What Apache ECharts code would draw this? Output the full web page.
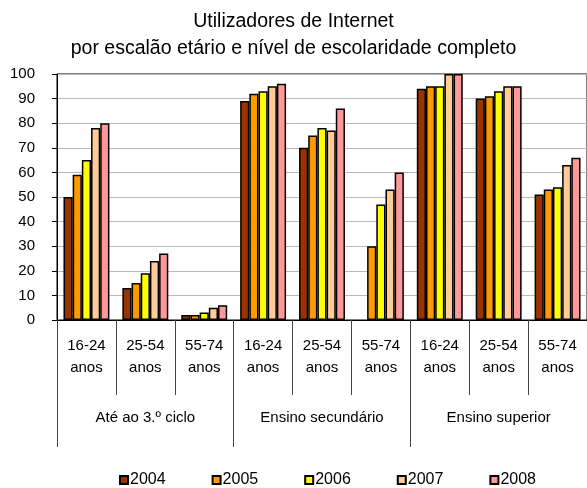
<!DOCTYPE html>
<html>
<head>
<meta charset="utf-8">
<script src="https://cdn.jsdelivr.net/npm/echarts@6/dist/echarts.min.js"></script>
<style>
  html, body { margin: 0; padding: 0; background: #fff; }
  #chart { width: 587px; height: 488px; }
</style>
</head>
<body>
<div id="chart"></div>
<script>
const ageGroups = ['16-24\nanos', '25-54\nanos', '55-74\nanos', '16-24\nanos', '25-54\nanos', '55-74\nanos', '16-24\nanos', '25-54\nanos', '55-74\nanos']
const levels = ['Até ao 3.º ciclo', 'Ensino secundário', 'Ensino superior']
const years = ['2004', '2005', '2006', '2007', '2008']

const v2004 = [50, 13, 2, 89, 70, null, 94, 90, 51]
const v2005 = [59, 15, 2, 92, 75, 30, 95, 91, 53]
const v2006 = [65, 19, 3, 93, 78, 47, 95, 93, 54]
const v2007 = [78, 24, 5, 95, 77, 53, 100, 95, 63]
const v2008 = [80, 27, 6, 96, 86, 60, 100, 95, 66]
const values = [v2004, v2005, v2006, v2007, v2008]

const colorList = ['#993300', '#ff9900', '#ffff00', '#ffcc99', '#ff9999']
const font = 'Liberation Sans, Arial, sans-serif'

const chart = echarts.init(document.getElementById('chart'))

const option = {
  animation: false,
  textStyle: { fontFamily: font },
  title: {
    text: 'Utilizadores de Internet\npor escalão etário e nível de escolaridade completo',
    left: 'center',
    top: 3,
    padding: [5, 17, 5, 0],
    textStyle: {
      fontFamily: font,
      fontSize: 19.5,
      fontWeight: 'normal',
      color: '#000',
      lineHeight: 27
    }
  },
  legend: {
    left: 114,
    top: 467,
    itemWidth: 8,
    itemHeight: 8,
    itemGap: 46,
    icon: 'rect',
    textStyle: { fontFamily: font, fontSize: 16, color: '#000', padding: [0, 0, 0, -3] },
    data: years
  },
  grid: {
    left: 57,
    top: 74,
    width: 538,
    height: 246,
    show: true,
    borderColor: '#000',
    borderWidth: 1,
    containLabel: false
  },
  xAxis: [
    {
      type: 'category',
      data: ageGroups,
      position: 'bottom',
      axisLine: { lineStyle: { color: '#000', width: 1 } },
      axisTick: { show: true, interval: 0, length: 75, lineStyle: { color: '#444' } },
      axisLabel: {
        interval: 0,
        margin: 15,
        fontSize: 15,
        lineHeight: 22,
        color: '#000',
        fontFamily: font
      }
    },
    {
      type: 'category',
      data: levels,
      position: 'bottom',
      offset: 0,
      axisLine: { show: false },
      axisTick: { show: true, interval: 0, length: 127, lineStyle: { color: '#444' } },
      axisLabel: {
        interval: 0,
        margin: 90,
        fontSize: 15,
        color: '#000',
        fontFamily: font
      }
    }
  ],
  yAxis: {
    type: 'value',
    min: 0,
    max: 100,
    interval: 10,
    axisLine: { show: true, lineStyle: { color: '#000' } },
    axisTick: { show: true, length: 5, lineStyle: { color: '#000' } },
    axisLabel: { margin: 22, fontSize: 15, color: '#000', fontFamily: font },
    splitLine: { lineStyle: { color: '#b8b8b8', width: 1 } }
  },
  series: years.map((y, i) => ({
    name: y,
    type: 'bar',
    xAxisIndex: 0,
    data: values[i],
    barGap: 0,
    barCategoryGap: '22%',
    itemStyle: {
      color: colorList[i],
      borderColor: '#000',
      borderWidth: 1.5
    }
  }))
}

chart.setOption(option)
</script>
</body>
</html>
